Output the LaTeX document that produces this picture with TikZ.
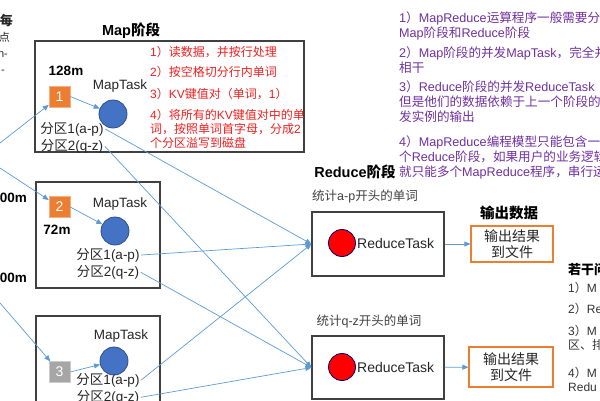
\documentclass[tikz,border=0pt]{standalone}
\usepackage{fontspec}
\setmainfont{Liberation Sans}
\newfontfamily\cjkfont{Noto Sans CJK SC}
\usetikzlibrary{arrows.meta, positioning}

% Chinese characters in the CJK font, the rest in Liberation Sans
\newXeTeXintercharclass\cjkcls
\newcount\cjkc
\cjkc="3000 \loop\XeTeXcharclass\cjkc=\cjkcls\relax\ifnum\cjkc<"303F \advance\cjkc by 1 \repeat
\cjkc="4E00 \loop\XeTeXcharclass\cjkc=\cjkcls\relax\ifnum\cjkc<"9FFF \advance\cjkc by 1 \repeat
\cjkc="FF00 \loop\XeTeXcharclass\cjkc=\cjkcls\relax\ifnum\cjkc<"FFEF \advance\cjkc by 1 \repeat
\XeTeXinterchartokenstate=1
\XeTeXinterchartoks 0 \cjkcls = {\cjkfont}
\XeTeXinterchartoks 4095 \cjkcls = {\cjkfont}
\XeTeXinterchartoks \cjkcls 0 = {\rmfamily}
\XeTeXinterchartoks 4095 0 = {\rmfamily}

\definecolor{mporange}{HTML}{ED7D31}
\definecolor{mpblue}{HTML}{4472C4}
\definecolor{flowblue}{HTML}{5B9BD5}
\definecolor{notered}{HTML}{F01E1E}
\definecolor{notepurple}{HTML}{7030A0}
\definecolor{boxgray}{HTML}{404040}

\begin{document}
\begin{tikzpicture}[x=1pt, y=-1pt,
    every node/.style={font=\fontsize{13.5}{16}\selectfont, text=black!85},
    stage/.style={font=\fontsize{14.5}{16}\selectfont\bfseries, text=black},
    chunk/.style={font=\fontsize{13.5}{16}\selectfont\bfseries, text=black},
    mapbox/.style={draw=boxgray, line width=1.2pt, rectangle, inner sep=0pt},
    numsq/.style={rectangle, minimum size=21pt, inner sep=0pt, fill=mporange, draw=mporange!60!white, text=white, font=\fontsize{14}{16}\selectfont},
    task/.style={circle, minimum size=28pt, inner sep=0pt, fill=mpblue, draw=mpblue!70!black, line width=0.8pt},
    rtask/.style={circle, minimum size=27pt, inner sep=0pt, fill=red, draw=blue!45!black, line width=0.8pt},
    parttext/.style={inner sep=1.5pt},
    outbox/.style={draw=mporange, line width=1.1pt, rectangle, align=center, inner sep=0pt, font=\fontsize{14}{16}\selectfont},
    flow/.style={draw=flowblue, line width=0.7pt, -{Triangle[length=6pt,width=5pt]}},
    note/.style={font=\fontsize{12}{14}\selectfont, text=notered, anchor=west, align=left, inner sep=0pt},
    pnote/.style={font=\fontsize{12.6}{15}\selectfont, text=notepurple, anchor=west, align=left, inner sep=0pt},
    qnote/.style={font=\fontsize{12}{14}\selectfont, text=black!80, anchor=west, align=left, inner sep=0pt},
    cutoff/.style={anchor=east, inner sep=0pt, font=\fontsize{11}{13}\selectfont, text=black!85}
]
\useasboundingbox (0,0) rectangle (600,400);
\clip (0,0) rectangle (600,400);

% cut-off text at the left edge
\node[cutoff, font=\fontsize{13}{15}\selectfont\bfseries] (cut1) at (13,21) {每};
\node[cutoff] (cut2) at (10,37) {点};
\node[cutoff] (cut3) at (8,55) {n-};
\node[cutoff] (cut4) at (5,72) {-};
\node[chunk, anchor=east, inner sep=0pt] (cut5) at (27,198) {00m};
\node[chunk, anchor=east, inner sep=0pt] (cut6) at (27,278) {00m};

% Map stage, first MapTask
\node[stage] (maptitle) at (131,31) {Map阶段};
\node[mapbox, minimum width=269pt, minimum height=111pt] (mbox1) at (169.5,96.5) {};
\node[chunk] (len1) at (66,71) {128m};
\node[numsq] (sq1) at (59.5,96.5) {1};
\node (mtl1) at (120,86) {MapTask};
\node[task] (mt1) at (113,114) {};
\node[parttext] (p11) at (72,129) {分区1(a-p)};
\node[parttext, below=0pt of p11] (p12) {分区2(q-z)};

% what a MapTask does
\node[note] (n1) at (150,52) {1）读数据，并按行处理};
\node[note] (n2) at (150,72) {2）按空格切分行内单词};
\node[note] (n3) at (150,94) {3）KV键值对（单词，1）};
\node[note] (n4) at (150,129) {4）将所有的KV键值对中的单\\词，按照单词首字母，分成2\\个分区溢写到磁盘};

% second MapTask
\node[mapbox, minimum width=124pt, minimum height=106pt] (mbox2) at (98,235) {};
\node[numsq] (sq2) at (59.5,207) {2};
\node[chunk] (len2) at (57,230) {72m};
\node (mtl2) at (120,204) {MapTask};
\node[task] (mt2) at (115,231) {};
\node[parttext] (p21) at (108,255) {分区1(a-p)};
\node[parttext, below=0pt of p21] (p22) {分区2(q-z)};

% third MapTask
\node[mapbox, minimum width=124pt, minimum height=110pt] (mbox3) at (98,371) {};
\node[numsq, fill=black!35, draw=black!20] (sq3) at (59.5,372) {3};
\node (mtl3) at (121,336) {MapTask};
\node[task] (mt3) at (114,361) {};
\node[parttext] (p31) at (108,380) {分区1(a-p)};
\node[parttext, below=0pt of p31] (p32) {分区2(q-z)};

% input splits
\coordinate (in1) at (0,143);
\coordinate (in2) at (0,168);
\coordinate (in3) at (0,303);
\draw[flow] (in1) -- (sq1);
\draw[flow] (in2) -- (sq2);
\draw[flow] (in3) -- (sq3);
\draw[flow] (sq1.east) -- (mt1);
\draw[flow] (sq2.east) -- (mt2);
\draw[flow] (sq3.east) -- (mt3);

% Reduce stage
\node[stage] (redtitle) at (355,172) {Reduce阶段};
\node[text=black!75, font=\fontsize{12.5}{15}\selectfont] (cnt1) at (365,197) {统计a-p开头的单词};
\node[mapbox, minimum width=132pt, minimum height=64pt] (rb1) at (378,244) {};
\node[rtask] (rt1) at (342,243) {};
\node[anchor=west, inner sep=0pt, font=\fontsize{14}{16}\selectfont] (rtl1) at (357,243) {ReduceTask};

\node[text=black!75, font=\fontsize{12.5}{15}\selectfont] (cnt2) at (369,322) {统计q-z开头的单词};
\node[mapbox, minimum width=132pt, minimum height=63pt] (rb2) at (378,367.5) {};
\node[rtask] (rt2) at (342,367) {};
\node[anchor=west, inner sep=0pt, font=\fontsize{14}{16}\selectfont] (rtl2) at (357,367) {ReduceTask};

% partitions to the reducers
\draw[flow] (p11.east) -- (rb1.west);
\draw[flow] (p21.east) -- (rb1.west);
\draw[flow] (p31.east) -- (rb1.west);
\draw[flow] (p12.east) -- (rb2.west);
\draw[flow] (p22.east) -- (rb2.west);
\draw[flow] (p32.east) -- (rb2.west);

% output
\node[stage] (outtitle) at (509,213) {输出数据};
\node[outbox, minimum width=82pt, minimum height=36pt] (out1) at (512,244) {输出结果\\到文件};
\node[outbox, minimum width=84pt, minimum height=40pt] (out2) at (511,367) {输出结果\\到文件};
\draw[flow] (rb1) -- (out1);
\draw[flow] (rb2) -- (out2);

% notes on the right
\node[pnote] (d1) at (399,26) {1）MapReduce运算程序一般需要分\\Map阶段和Reduce阶段};
\node[pnote] (d2) at (399,60.5) {2）Map阶段的并发MapTask，完全并\\相干};
\node[pnote] (d3) at (399,102) {3）Reduce阶段的并发ReduceTask\\但是他们的数据依赖于上一个阶段的\\发实例的输出};
\node[pnote] (d4) at (399,157) {4）MapReduce编程模型只能包含一\\个Reduce阶段，如果用户的业务逻辑\\就只能多个MapReduce程序，串行运};

\node[stage, anchor=west, inner sep=0pt, font=\fontsize{13}{15}\selectfont\bfseries] (q0) at (568,270) {若干问};
\node[qnote] (q1) at (568,288) {1）M};
\node[qnote] (q2) at (568,309) {2）Re};
\node[qnote] (q3) at (568,338) {3）M\\区、排};
\node[qnote] (q4) at (568,379.5) {4）M\\Redu};
\end{tikzpicture}
\end{document}
